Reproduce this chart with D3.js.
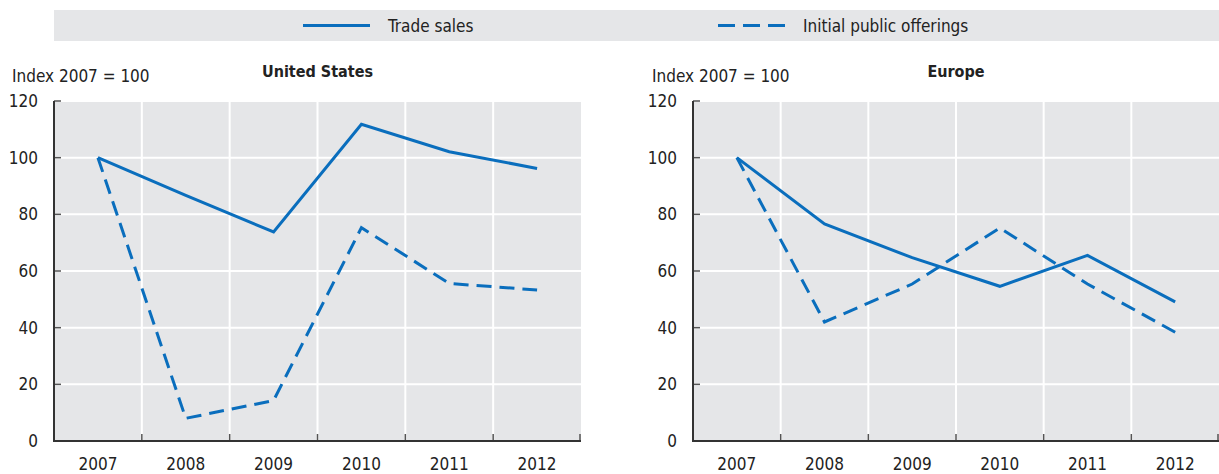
<!DOCTYPE html>
<html><head><meta charset="utf-8">
<script src="https://cdn.jsdelivr.net/npm/d3@7"></script>
<style>
body{margin:0;background:#fff;}
text{font-family:"Liberation Sans Narrow","Arial Narrow","DejaVu Sans Condensed",sans-serif;fill:#222;}
</style></head><body>
<svg id="c" width="1219" height="474"></svg>
<script>
const years = ["2007","2008","2009","2010","2011","2012"];
const yTicks = [0,20,40,60,80,100,120];
const seriesNames = ["Trade sales","Initial public offerings"];
const usTrade = [100,86.7,73.8,111.8,102.1,96.2];
const usIPO   = [100,8.0,14.3,75.3,55.6,53.3];
const euTrade = [100,76.6,64.7,54.6,65.5,49.1];
const euIPO   = [100,42.0,55.4,75.2,55.4,38.4];
const panelTitles = ["United States","Europe"];
const yLabel = "Index 2007 = 100";

const BLUE = "#0a6ebd", BG = "#e5e6e8";
const svg = d3.select("#c");

// legend
svg.append("rect").attr("x",54).attr("y",10).attr("width",1165).attr("height",31).attr("fill",BG);
const leg = [{x:303,dash:null},{x:718,dash:"17,8"}];
leg.forEach((l,i)=>{
  svg.append("line").attr("x1",l.x).attr("x2",l.x+67).attr("y1",25.5).attr("y2",25.5)
    .attr("stroke",BLUE).attr("stroke-width",3).attr("stroke-dasharray",l.dash);
  svg.append("text").attr("x",l.x+85).attr("y",31.5).attr("font-size",17).text(seriesNames[i]);
});

const panels = [
  {x0:54,x1:581,trade:usTrade,ipo:usIPO,title:panelTitles[0],lx:12},
  {x0:693,x1:1219,trade:euTrade,ipo:euIPO,title:panelTitles[1],lx:652}
];
const y = d3.scaleLinear().domain([0,120]).range([441,101]);

panels.forEach(p=>{
  const x = d3.scaleBand().domain(years).range([p.x0,p.x1]).padding(0);
  const g = svg.append("g");
  g.append("rect").attr("x",p.x0).attr("y",y(120)).attr("width",p.x1-p.x0).attr("height",y(0)-y(120)).attr("fill",BG);
  g.selectAll(".hg").data(yTicks.slice(1)).join("line")
    .attr("x1",p.x0).attr("x2",p.x1).attr("y1",d=>y(d)).attr("y2",d=>y(d))
    .attr("stroke","#fff").attr("stroke-width",2);
  g.selectAll(".vg").data(years.slice(1)).join("line")
    .attr("x1",d=>x(d)).attr("x2",d=>x(d)).attr("y1",y(120)).attr("y2",y(0))
    .attr("stroke","#fff").attr("stroke-width",2);
  g.selectAll(".yt").data(yTicks).join("line")
    .attr("x1",p.x0).attr("x2",p.x0+7).attr("y1",d=>y(d)).attr("y2",d=>y(d))
    .attr("stroke","#555").attr("stroke-width",1.5);
  const bounds = years.slice(1).map(d=>x(d)).concat([p.x1-1]);
  g.selectAll(".xt").data(bounds).join("line")
    .attr("x1",d=>d).attr("x2",d=>d).attr("y1",y(0)).attr("y2",y(0)-7)
    .attr("stroke","#555").attr("stroke-width",1.5);
  g.append("line").attr("x1",p.x0).attr("x2",p.x0).attr("y1",y(120)).attr("y2",y(0)+1)
    .attr("stroke","#333").attr("stroke-width",2);
  g.append("line").attr("x1",p.x0-1).attr("x2",p.x1).attr("y1",y(0)).attr("y2",y(0))
    .attr("stroke","#333").attr("stroke-width",2);
  g.selectAll(".yl").data(yTicks).join("text")
    .attr("x",p.x0-16).attr("y",d=>y(d)+6).attr("text-anchor","end").attr("font-size",17).text(d=>d);
  g.selectAll(".xl").data(years).join("text")
    .attr("x",d=>x(d)+x.bandwidth()/2).attr("y",470).attr("text-anchor","middle").attr("font-size",17).text(d=>d);
  g.append("text").attr("x",(p.x0+p.x1)/2).attr("y",77).attr("text-anchor","middle")
    .attr("font-size",16).attr("font-weight","bold").text(p.title);
  g.append("text").attr("x",p.lx).attr("y",82).attr("font-size",17).text(yLabel);
  const line = d3.line().x((d,i)=>x(years[i])+x.bandwidth()/2).y(d=>y(d));
  g.append("path").attr("d",line(p.trade)).attr("fill","none").attr("stroke",BLUE).attr("stroke-width",3);
  g.append("path").attr("d",line(p.ipo)).attr("fill","none").attr("stroke",BLUE).attr("stroke-width",3).attr("stroke-dasharray","15,8");
});
</script></body></html>
